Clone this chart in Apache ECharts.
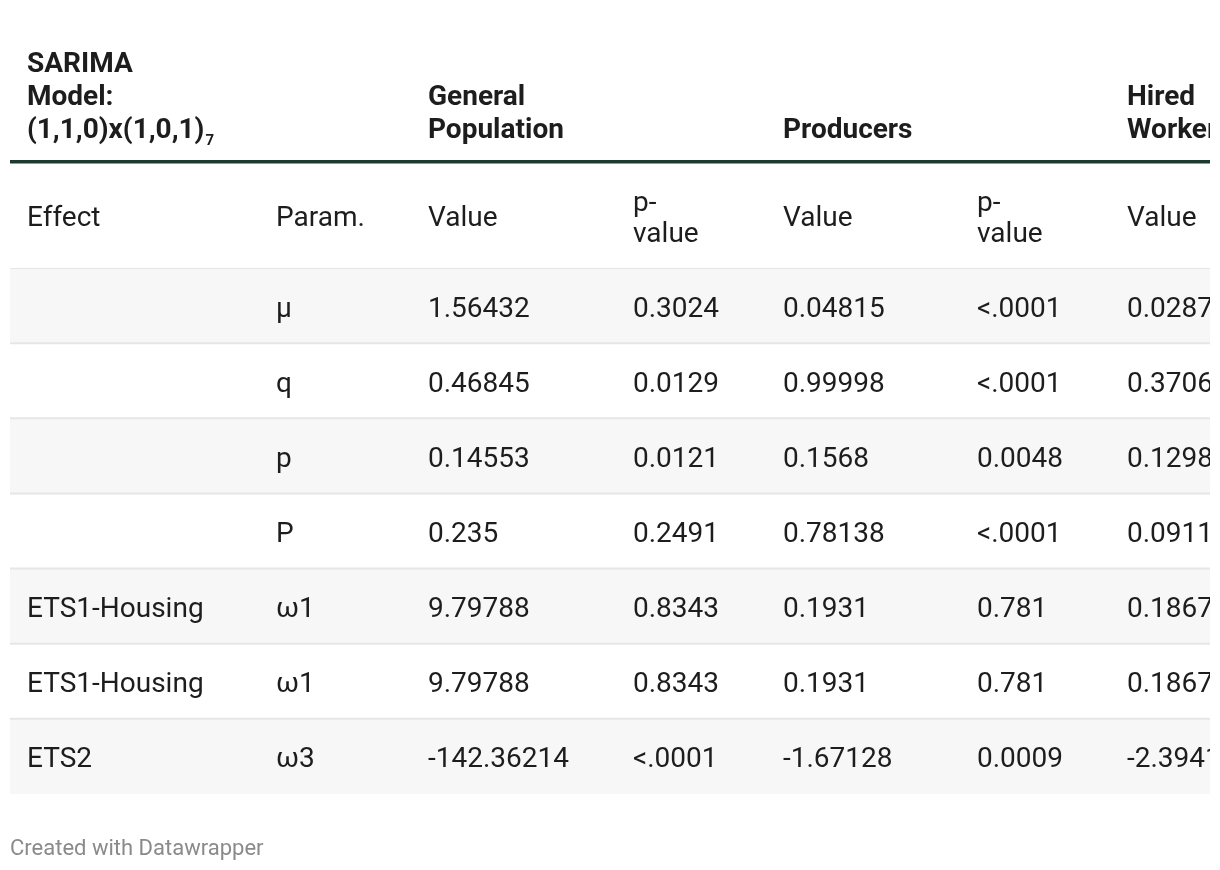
<!DOCTYPE html>
<html>
<head>
<meta charset="utf-8">
<script src="https://cdn.jsdelivr.net/npm/echarts@6/dist/echarts.min.js"></script>
<style>
  html, body { margin: 0; padding: 0; background: #ffffff; }
  #chart { width: 1220px; height: 870px; }
</style>
</head>
<body>
<div id="chart"></div>
<script>
// ---- Data ----
const groupHeaders = ['SARIMA\nModel:\n(1,1,0)x(1,0,1)', 'General\nPopulation', 'Producers', 'Hired\nWorkers'];
const modelSubscript = '7';
const columnHeaders = ['Effect', 'Param.', 'Value', 'p-\nvalue', 'Value', 'p-\nvalue', 'Value'];
const effects    = ['', '', '', '', 'ETS1-Housing', 'ETS1-Housing', 'ETS2'];
const params     = ['μ', 'q', 'p', 'P', 'ω1', 'ω1', 'ω3'];
const genValue   = ['1.56432', '0.46845', '0.14553', '0.235', '9.79788', '9.79788', '-142.36214'];
const genP       = ['0.3024', '0.0129', '0.0121', '0.2491', '0.8343', '0.8343', '<.0001'];
const prodValue  = ['0.04815', '0.99998', '0.1568', '0.78138', '0.1931', '0.1931', '-1.67128'];
const prodP      = ['<.0001', '<.0001', '0.0048', '<.0001', '0.781', '0.781', '0.0009'];
const hiredValue = ['0.0287', '0.3706', '0.1298', '0.0911', '0.1867', '0.1867', '-2.3941'];
const footerText = 'Created with Datawrapper';

// ---- Layout / style ----
const FONT = 'Roboto, "Noto Sans", sans-serif';
const BODY_SIZE = 28;
const TEXT_COLOR = '#1d1d1d';
const COL_X = [17, 266, 418, 623, 773, 967, 1117];   // axis units (grid starts at 10px)
const GROUP_COL = [0, 2, 4, 6];
const GRID_LEFT = 10, GRID_WIDTH = 1200;
const BOLD_FONT = 'bold ' + BODY_SIZE + 'px ' + FONT;

const columns = [effects, params, genValue, genP, prodValue, prodP, hiredValue];
const rowIdx = params.map((_, i) => String(i));

function textWidth(t, font) {
  const ctx = document.createElement('canvas').getContext('2d');
  ctx.font = font;
  return ctx.measureText(t).width;
}

const chart = echarts.init(document.getElementById('chart'), null, { renderer: 'canvas' });

const graphics = [];
// group headers (bold, bottom aligned)
groupHeaders.forEach((t, k) => {
  graphics.push({
    type: 'text', z: 10,
    style: {
      text: t, x: GRID_LEFT + COL_X[GROUP_COL[k]], y: 147.5,
      align: 'left', verticalAlign: 'bottom',
      font: BOLD_FONT, fill: TEXT_COLOR, lineHeight: 33
    }
  });
});
// subscript after the model spec
const lastLine = groupHeaders[0].split('\n').pop();
graphics.push({
  type: 'text', z: 10,
  style: {
    text: modelSubscript,
    x: GRID_LEFT + COL_X[0] + textWidth(lastLine, BOLD_FONT) + 1, y: 141,
    align: 'left', verticalAlign: 'middle',
    font: 'bold 15px ' + FONT, fill: TEXT_COLOR
  }
});
// thick header rule
graphics.push({ type: 'rect', shape: { x: GRID_LEFT, y: 160, width: GRID_WIDTH, height: 3.5 }, style: { fill: '#1b3b2e' }, z: 10 });
// column headers
columnHeaders.forEach((t, k) => {
  graphics.push({
    type: 'text', z: 10,
    style: {
      text: t, x: GRID_LEFT + COL_X[k], y: 219,
      align: 'left', verticalAlign: 'middle',
      font: BODY_SIZE + 'px ' + FONT, fill: TEXT_COLOR, lineHeight: 31
    }
  });
});
// footer
graphics.push({
  type: 'text', z: 10,
  style: { text: footerText, x: 10, y: 849, align: 'left', verticalAlign: 'middle', font: '22px ' + FONT, fill: '#8a8a8a' }
});
// right-edge clip mask
graphics.push({ type: 'rect', shape: { x: 1210, y: 0, width: 10, height: 870 }, style: { fill: '#ffffff' }, z: 100 });

chart.setOption({
  animation: false,
  backgroundColor: '#ffffff',
  grid: { left: GRID_LEFT, width: GRID_WIDTH, top: 268, bottom: 76, containLabel: false },
  xAxis: { type: 'value', min: 0, max: 1200, show: false },
  yAxis: { type: 'category', data: rowIdx, inverse: true, show: false },
  graphic: graphics,
  series: [{
    type: 'custom',
    coordinateSystem: 'cartesian2d',
    clip: true,
    encode: { x: 0, y: 1 },
    data: rowIdx.map((r, i) => [0, i]),
    renderItem: function (p, api) {
      const i = api.value(1);
      const c = api.coord([0, i]);
      const h = api.size([0, 1])[1];
      const top = c[1] - h / 2;
      const children = [
        { type: 'rect', shape: { x: c[0], y: top, width: GRID_WIDTH, height: h }, style: { fill: i % 2 === 0 ? '#f7f7f7' : '#ffffff' } },
        { type: 'rect', shape: { x: c[0], y: top - 1, width: GRID_WIDTH, height: 2 }, style: { fill: '#e6e6e6' } }
      ];
      columns.forEach((col, k) => {
        children.push({
          type: 'text',
          style: {
            text: col[i], x: api.coord([COL_X[k], i])[0], y: c[1] + 4,
            align: 'left', verticalAlign: 'middle',
            font: BODY_SIZE + 'px ' + FONT, fill: TEXT_COLOR
          }
        });
      });
      return { type: 'group', children: children };
    }
  }]
});
</script>
</body>
</html>
